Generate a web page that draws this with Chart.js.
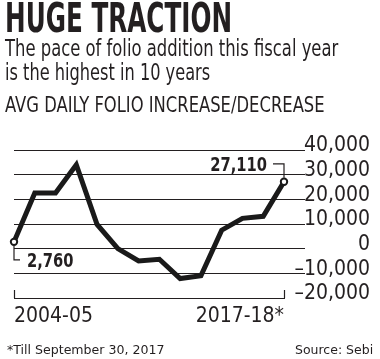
<!DOCTYPE html>
<html>
<head>
<meta charset="utf-8">
<script src="https://cdn.jsdelivr.net/npm/chart.js@4"></script>
<style>
    html, body { margin: 0; padding: 0; background: #fff; }
    #wrap { position: relative; width: 380px; height: 359px; overflow: hidden; }
    #grafico { position: absolute; left: 0; top: 0; }
    .txt {
        position: absolute; white-space: nowrap; color: #231f20;
        font-family: "Liberation Sans Narrow", "DejaVu Sans Condensed", "Arial Narrow", sans-serif;
        transform-origin: 0 0; line-height: 1;
    }
</style>
</head>
<body>
<div id="wrap">
    <canvas id="grafico" width="380" height="359"></canvas>
    <div class="txt" data-w="227" style="left:5px; top:-2px; font-size:40px; font-weight:bold;">HUGE TRACTION</div>
    <div class="txt" data-w="333" style="left:5px; top:37px; font-size:23px;">The pace of folio addition this fiscal year</div>
    <div class="txt" data-w="205" style="left:5px; top:61px; font-size:23px;">is the highest in 10 years</div>
    <div class="txt" data-w="320" style="left:5px; top:95px; font-size:21px;">AVG DAILY FOLIO INCREASE/DECREASE</div>
    <div class="txt" data-w="158" style="left:7px; top:343px; font-size:13px;">*Till September 30, 2017</div>
    <div class="txt" data-w="78" style="left:295px; top:343px; font-size:13px;">Source: Sebi</div>
</div>
<script>
const anos = ["2004-05", "2005-06", "2006-07", "2007-08", "2008-09", "2009-10", "2010-11",
    "2011-12", "2012-13", "2013-14", "2014-15", "2015-16", "2016-17", "2017-18*"];
const folios = [2760, 22600, 22600, 34000, 9800, 0, -5000, -4300, -12100, -11000, 7500, 12300, 13100, 27110];
const escalaY = [-20000, -10000, 0, 10000, 20000, 30000, 40000];
const rotulosX = ["2004-05", "2017-18*"];
const pontosMarcados = [0, anos.length - 1];

const corTexto = "#231f20";
const fonteNarrow = '"Liberation Sans Narrow", "DejaVu Sans Condensed", "Arial Narrow", sans-serif';

function formatar(v) {
    return v.toLocaleString("en-US").replace("-", "\u2013");
}

// texto condensado desenhado no canvas
function textoEstreito(ctx, txt, x, y, alinhar) {
    const esc = 0.86;
    let w = ctx.measureText(txt).width * esc;
    let x0 = alinhar === "right" ? x - w : x;
    ctx.save();
    ctx.translate(x0, y);
    ctx.scale(esc, 1);
    ctx.textAlign = "left";
    ctx.fillText(txt, 0, 0);
    ctx.restore();
}

// leader lines, value labels and the two small ticks on the baseline
const anotacoes = {
    id: "anotacoes",
    afterDatasetsDraw(chart) {
        const { ctx, scales: { x, y } } = chart;
        const pts = chart.getDatasetMeta(0).data;
        ctx.save();
        ctx.strokeStyle = corTexto;
        ctx.fillStyle = corTexto;
        ctx.lineWidth = 1.2;

        rotulosX.forEach(r => {
            let px = Math.round(x.getPixelForValue(anos.indexOf(r))) + 0.5;
            ctx.beginPath();
            ctx.moveTo(px, y.bottom - 8);
            ctx.lineTo(px, y.bottom);
            ctx.stroke();
        });

        ctx.font = "bold 19px " + fonteNarrow;
        ctx.textBaseline = "alphabetic";

        let p0 = pts[pontosMarcados[0]];
        ctx.beginPath();
        ctx.moveTo(p0.x, p0.y + 4);
        ctx.lineTo(p0.x, p0.y + 18);
        ctx.lineTo(p0.x + 6, p0.y + 18);
        ctx.stroke();
        textoEstreito(ctx, formatar(folios[pontosMarcados[0]]), p0.x + 13, p0.y + 25, "left");

        let p1 = pts[pontosMarcados[1]];
        ctx.beginPath();
        ctx.moveTo(p1.x, p1.y - 4);
        ctx.lineTo(p1.x, p1.y - 18);
        ctx.lineTo(p1.x - 11, p1.y - 18);
        ctx.stroke();
        textoEstreito(ctx, formatar(folios[pontosMarcados[1]]), p1.x - 17, p1.y - 11, "right");
        ctx.restore();
    }
};

const ctxLinha = document.getElementById("grafico").getContext("2d");

let grafico = new Chart(ctxLinha, {
    type: "line",
    data: {
        labels: anos,
        datasets: [{
            data: folios,
            borderColor: "#1a1a1a",
            borderWidth: 5,
            borderJoinStyle: "miter",
            tension: 0,
            clip: false,
            pointRadius: c => pontosMarcados.includes(c.dataIndex) ? 3.2 : 0,
            pointBorderWidth: 2,
            pointBackgroundColor: "#fff",
            pointBorderColor: "#1a1a1a"
        }]
    },
    options: {
        responsive: false,
        animation: false,
        layout: { padding: { left: 14, right: 10, top: 150, bottom: 0 } },
        plugins: { legend: { display: false }, tooltip: { enabled: false } },
        scales: {
            x: {
                grid: { display: false, drawTicks: false },
                border: { display: true, color: corTexto, width: 1 },
                ticks: {
                    autoSkip: false,
                    maxRotation: 0,
                    align: "inner",
                    padding: 6,
                    color: corTexto,
                    font: { family: fonteNarrow, size: 21 },
                    callback: function (v, i) { return rotulosX.includes(anos[i]) ? anos[i] : ""; }
                },
                afterFit: s => { s.height = 61; }
            },
            y: {
                position: "right",
                min: escalaY[0],
                max: escalaY[escalaY.length - 1],
                afterBuildTicks: s => { s.ticks = escalaY.map(v => ({ value: v })); },
                afterFit: s => { s.width = 86; },
                border: { display: false },
                grid: {
                    color: corTexto,
                    lineWidth: 1,
                    tickLength: 21,
                    tickColor: c => c.tick && c.tick.value === escalaY[0] ? "rgba(0,0,0,0)" : corTexto
                },
                ticks: {
                    autoSkip: false,
                    crossAlign: "far",
                    labelOffset: -4,
                    color: corTexto,
                    font: { family: fonteNarrow, size: 21 },
                    callback: v => formatar(v)
                }
            }
        }
    },
    plugins: [anotacoes]
});

document.querySelectorAll(".txt").forEach(el => {
    let alvo = parseFloat(el.dataset.w);
    el.style.transform = "scaleX(" + (alvo / el.offsetWidth) + ")";
});
</script>
</body>
</html>
